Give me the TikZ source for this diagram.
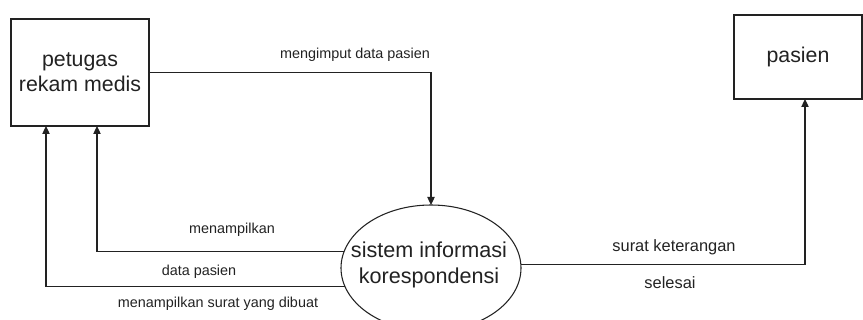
\documentclass[tikz,border=0pt]{standalone}
\usepackage{fontspec}
\setmainfont{Liberation Sans}
\usetikzlibrary{shapes.geometric,arrows.meta}
\definecolor{ink}{HTML}{222222}
\begin{document}
\begin{tikzpicture}[x=0.75pt,y=-0.75pt,
  entity/.style={draw=ink,line width=0.8pt,rectangle,inner sep=0pt,outer sep=0pt,text=ink,align=center,font=\fontsize{16}{19}\selectfont},
  proc/.style={draw=ink,line width=0.8pt,ellipse,inner sep=0pt,outer sep=0pt,minimum width=135pt,minimum height=94.5pt},
  proctext/.style={text=ink,align=center,inner sep=0pt,font=\fontsize{16.2}{19}\selectfont},
  flow/.style={draw=ink,line width=0.9pt,-{Triangle[length=6pt,width=5.5pt]}},
  lbl/.style={text=ink,inner sep=0pt,font=\fontsize{10.8}{13}\selectfont},
  lblr/.style={text=ink,inner sep=0pt,font=\fontsize{12.3}{14}\selectfont}]
\useasboundingbox (0,0) rectangle (863,320);
\clip (0,0) rectangle (863,320);
\node[entity,minimum width=103.5pt,minimum height=80.25pt] (petugas) at (80,72.5) {petugas\\rekam medis};
\node[entity,minimum width=96pt,minimum height=63pt] (pasien) at (798,57) {pasien};
\node[proc] (sys) at (431,268) {};
\node[proctext] (systext) at (429,265) {sistem informasi\\korespondensi};
% flows
\draw[flow] (petugas.east) -| (sys.north);
\node[lbl] (l1) at (355,55) {mengimput data pasien};
\draw[flow] (sys.169.6) -| ([xshift=12.75pt]petugas.south);
\node[lbl] (l2) at (232,230) {menampilkan};
\draw[flow] (sys.192.5) -| ([xshift=-25.5pt]petugas.south);
\node[lbl] (l3) at (199,272) {data pasien};
\node[lbl] (l4) at (218,304) {menampilkan surat yang dibuat};
\draw[flow] (sys.2.5) -| ([xshift=5.25pt]pasien.south);
\node[lblr] (l5) at (674,247) {surat keterangan};
\node[lblr] (l6) at (670,283) {selesai};
\end{tikzpicture}
\end{document}
